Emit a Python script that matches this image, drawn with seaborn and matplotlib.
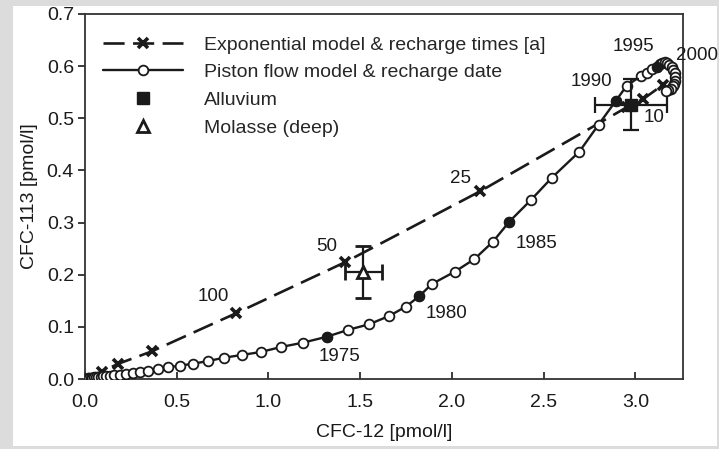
import numpy as np
import pandas as pd
import matplotlib
matplotlib.use("Agg")
import matplotlib.pyplot as plt
from matplotlib.lines import Line2D
from matplotlib.patches import Rectangle
import seaborn as sns

# ---------------- data ----------------
exp_x = [0.0, 0.09, 0.18, 0.364, 0.823, 1.418, 2.154, 2.953, 3.043, 3.15]
exp_y = [0.0, 0.014, 0.029, 0.053, 0.126, 0.224, 0.360, 0.521, 0.537, 0.564]
exp_labels = ["100", "50", "25", "10"]
exp_label_x = [0.70, 1.318, 2.045, 3.10]
exp_label_y = [0.159, 0.254, 0.384, 0.502]

# piston flow model, annual points 1947-1996
pf_year = list(range(1947, 1997))
pf_x = [0.010, 0.016, 0.023, 0.031, 0.040, 0.050, 0.061, 0.073, 0.087,
        0.100, 0.115, 0.135, 0.160, 0.190, 0.224, 0.260, 0.300, 0.345, 0.396,
        0.454, 0.518, 0.590, 0.672, 0.760, 0.854, 0.958, 1.069, 1.187, 1.318,
        1.432, 1.549, 1.659, 1.750, 1.823, 1.890, 2.017, 2.123, 2.223, 2.314,
        2.430, 2.545, 2.695, 2.800, 2.893, 2.953, 3.030, 3.063, 3.092, 3.117,
        3.135]
pf_y = [0.0005, 0.001, 0.0015, 0.002, 0.0025, 0.003, 0.0035, 0.004, 0.0045,
        0.005, 0.0055, 0.006, 0.007, 0.008, 0.0096, 0.0115, 0.014, 0.016, 0.019,
        0.0224, 0.0256, 0.0294, 0.0345, 0.041, 0.046, 0.0518, 0.0614, 0.0696, 0.081,
        0.094, 0.105, 0.121, 0.139, 0.159, 0.182, 0.206, 0.230, 0.263, 0.302,
        0.343, 0.386, 0.436, 0.488, 0.533, 0.5625, 0.581, 0.5875, 0.5945, 0.599,
        0.604]
# piston flow model, densely spaced points up to 2000 (the loop at top right)
pf_tail_x = [3.148, 3.160, 3.173, 3.186, 3.198, 3.207, 3.214, 3.218, 3.218,
             3.213, 3.204, 3.192, 3.180, 3.168]
pf_tail_y = [0.606, 0.607, 0.606, 0.603, 0.598, 0.592, 0.586, 0.579, 0.572,
             0.566, 0.561, 0.557, 0.555, 0.553]
pf_filled_years = [1975, 1980, 1985, 1990, 1995]
pf_labels = ["1975", "1980", "1985", "1990", "1995", "2000"]
pf_label_x = [1.39, 1.968, 2.463, 2.763, 2.988, 3.335]
pf_label_y = [0.043, 0.126, 0.260, 0.570, 0.637, 0.621]

alluvium_x, alluvium_y = [2.975], [0.526]
alluvium_xerr, alluvium_yerr = [0.197], [0.049]
molasse_x, molasse_y = [1.518], [0.206]
molasse_xerr, molasse_yerr = [0.10], [0.050]

x_ticks = [0.0, 0.5, 1.0, 1.5, 2.0, 2.5, 3.0]
y_ticks = [0.0, 0.1, 0.2, 0.3, 0.4, 0.5, 0.6, 0.7]

# ---------------- style ----------------
sns.set_theme(style="ticks")
plt.rcParams["font.family"] = ["Liberation Sans", "DejaVu Sans"]
FS = 14
INK = "#1a1a1a"
DASH = (0, (8, 3.2))

fig = plt.figure(figsize=(7.19, 4.49), dpi=100, facecolor="#dcdcdc")
bg = Rectangle((13 / 719, 1 - 445.5 / 449), (717 - 13) / 719, (445.5 - 6) / 449,
               transform=fig.transFigure, facecolor="white", edgecolor="none", zorder=-10)
fig.patches.append(bg)
ax = fig.add_axes([85 / 719, 1 - 379 / 449, (683 - 85) / 719, (379 - 14) / 449])
ax.set_zorder(1)
ax.set_facecolor("white")

df_exp = pd.DataFrame({"x": exp_x, "y": exp_y})
df_pf = pd.DataFrame({"x": pf_x + pf_tail_x, "y": pf_y + pf_tail_y,
                      "year": pf_year + [np.nan] * len(pf_tail_x)})

sns.lineplot(data=df_exp, x="x", y="y", sort=False, estimator=None, ax=ax,
             color=INK, linewidth=1.9, linestyle=DASH,
             marker="x", markersize=7.5, markeredgewidth=2.6, markeredgecolor=INK, zorder=3)
sns.lineplot(data=df_pf, x="x", y="y", sort=False, estimator=None, ax=ax,
             color=INK, linewidth=1.7,
             marker="o", markersize=7, markerfacecolor="white", markeredgecolor=INK,
             markeredgewidth=1.3, zorder=4)
df_f = df_pf[df_pf["year"].isin(pf_filled_years)]
sns.scatterplot(data=df_f, x="x", y="y", ax=ax, color=INK, s=50, edgecolor=INK,
                linewidth=1, zorder=5, legend=False)

ax.errorbar(alluvium_x, alluvium_y, xerr=alluvium_xerr, yerr=alluvium_yerr, fmt="s",
            color=INK, markersize=9, elinewidth=1.6, capsize=5.5, capthick=1.6, zorder=6)
ax.errorbar(molasse_x, molasse_y, xerr=molasse_xerr, yerr=molasse_yerr, fmt="^",
            color=INK, markerfacecolor="white", markeredgewidth=2, markersize=9,
            elinewidth=1.6, capsize=5.5, capthick=1.6, zorder=6)

for t, x, y in zip(exp_labels, exp_label_x, exp_label_y):
    ax.text(x, y, t, ha="center", va="center", fontsize=FS - 0.5, color=INK)
for t, x, y in zip(pf_labels, pf_label_x, pf_label_y):
    ax.text(x, y, t, ha="center", va="center", fontsize=FS - 0.5, color=INK, clip_on=False)

ax.set_xlim(0, 3.26)
ax.set_ylim(0, 0.7)
ax.set_xticks(x_ticks)
ax.set_yticks(y_ticks)
ax.set_xticklabels([f"{v:.1f}" for v in x_ticks])
ax.set_yticklabels([f"{v:.1f}" for v in y_ticks])
ax.tick_params(axis="x", direction="in", length=5, width=1.2, pad=11, labelsize=FS, colors=INK)
ax.tick_params(axis="y", direction="out", length=5, width=1.2, pad=3, labelsize=FS, colors=INK)
for s in ax.spines.values():
    s.set_visible(True)
    s.set_color("#333333")
    s.set_linewidth(1.3)
ax.set_xlabel("CFC-12 [pmol/l]", fontsize=FS, color=INK, labelpad=9)
ax.set_ylabel("CFC-113 [pmol/l]", fontsize=FS, color=INK, labelpad=6)

handles = [
    Line2D([], [], color=INK, linewidth=1.9, linestyle=DASH, marker="x",
           markersize=7.5, markeredgewidth=2.6),
    Line2D([], [], color=INK, linewidth=1.7, marker="o", markersize=7,
           markerfacecolor="white", markeredgewidth=1.3),
    Line2D([], [], color=INK, linestyle="none", marker="s", markersize=8),
    Line2D([], [], color=INK, linestyle="none", marker="^", markersize=8,
           markerfacecolor="white", markeredgewidth=2),
]
labels = ["Exponential model & recharge times [a]", "Piston flow model & recharge date",
          "Alluvium", "Molasse (deep)"]
ax.legend(handles, labels, loc="upper left", bbox_to_anchor=(0.03, 0.94), frameon=False,
          fontsize=FS, handlelength=4.1, handletextpad=1.08, labelspacing=0.52,
          borderpad=0, borderaxespad=0, numpoints=1)

fig.savefig("out.png", dpi=100, facecolor=fig.get_facecolor())
